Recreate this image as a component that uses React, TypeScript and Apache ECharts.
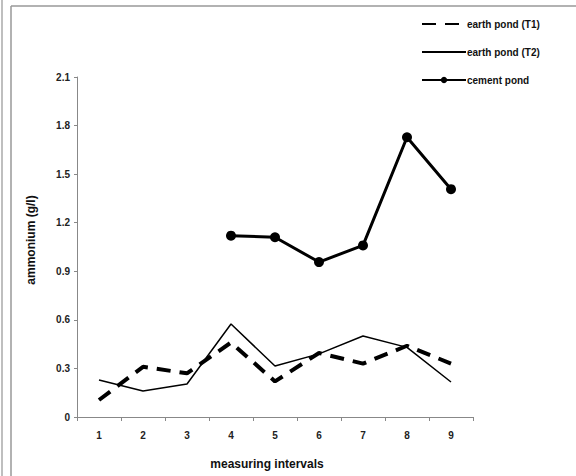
import React, { useEffect, useRef } from "react";
import * as echarts from "echarts";

const categories = ["1", "2", "3", "4", "5", "6", "7", "8", "9"];
const earthT1 = [0.105, 0.31, 0.27, 0.46, 0.22, 0.395, 0.33, 0.44, 0.33];
const earthT2 = [0.228, 0.16, 0.204, 0.574, 0.315, 0.39, 0.5, 0.43, 0.216];
const cement = [null, null, null, 1.12, 1.11, 0.957, 1.06, 1.728, 1.407];
const seriesNames = ["earth pond (T1)", "earth pond (T2)", "cement pond"];

const FONT = "'Liberation Sans Narrow', 'Liberation Sans', Arial, sans-serif";

export default function App() {
  const ref = useRef<HTMLDivElement>(null);
  useEffect(() => {
    if (!ref.current) return;
    const chart = echarts.init(ref.current, null, { renderer: "svg" });
    chart.setOption({
      animation: false,
      backgroundColor: "#fff",
      textStyle: { fontFamily: FONT },
      grid: { left: 77, top: 77, right: 103, bottom: 59 },
      graphic: [
        { type: "line", shape: { x1: 2, y1: 0, x2: 2, y2: 476 }, style: { stroke: "#aaa", lineWidth: 1.5 } },
        { type: "line", shape: { x1: 11, y1: 6, x2: 11, y2: 476 }, style: { stroke: "#999", lineWidth: 1.5 } },
        { type: "line", shape: { x1: 11, y1: 6, x2: 576, y2: 6 }, style: { stroke: "#999", lineWidth: 1.5 } },
      ],
      legend: {
        orient: "vertical",
        left: 416,
        top: 14,
        itemGap: 18,
        itemWidth: 44,
        itemHeight: 8,
        data: [
          { name: seriesNames[0], itemStyle: { opacity: 0 } },
          { name: seriesNames[1], itemStyle: { opacity: 0 } },
          { name: seriesNames[2] },
        ],
        textStyle: { fontSize: 10, fontWeight: "bold", color: "#111", fontFamily: FONT, padding: [0, 0, 0, -4] },
      },
      xAxis: {
        type: "category",
        data: categories,
        boundaryGap: true,
        name: "measuring intervals",
        nameLocation: "middle",
        nameGap: 41,
        nameTextStyle: { fontSize: 12, fontWeight: "bold", color: "#111", fontFamily: FONT, padding: [0, 16, 0, 0] },
        axisLine: { lineStyle: { color: "#888", width: 1 } },
        axisTick: { show: true, length: 4, lineStyle: { color: "#888" } },
        axisLabel: { fontSize: 10, fontWeight: "bold", color: "#222", margin: 13, fontFamily: FONT },
      },
      yAxis: {
        type: "value",
        min: 0,
        max: 2.1,
        interval: 0.3,
        name: "ammonium (g/l)",
        nameLocation: "middle",
        nameGap: 40,
        nameTextStyle: { fontSize: 12, fontWeight: "bold", color: "#111", fontFamily: FONT, padding: [0, 0, 0, 14] },
        splitLine: { show: false },
        axisLine: { show: true, lineStyle: { color: "#888", width: 1 } },
        axisTick: { show: true, length: 3, lineStyle: { color: "#888" } },
        axisLabel: {
          fontSize: 10,
          fontWeight: "bold",
          color: "#222",
          margin: 7,
          fontFamily: FONT,
          formatter: (v: number) => (v === 0 ? "0" : v.toFixed(1)),
        },
      },
      series: [
        {
          name: seriesNames[0],
          type: "line",
          data: earthT1,
          symbol: "none",
          lineStyle: { color: "#000", width: 4, type: [14, 9] },
          itemStyle: { color: "#000" },
        },
        {
          name: seriesNames[1],
          type: "line",
          data: earthT2,
          symbol: "none",
          lineStyle: { color: "#000", width: 1.5 },
          itemStyle: { color: "#000" },
        },
        {
          name: seriesNames[2],
          type: "line",
          data: cement,
          symbol: "circle",
          symbolSize: 10,
          lineStyle: { color: "#000", width: 3 },
          itemStyle: { color: "#000" },
        },
      ],
    });
    return () => chart.dispose();
  }, []);
  return <div ref={ref} style={{ width: 576, height: 476, position: "absolute", left: 0, top: 0 }} />;
}
